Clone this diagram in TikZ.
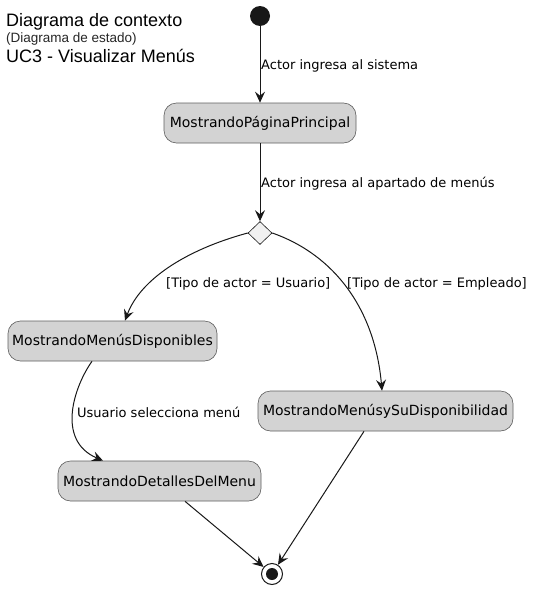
\documentclass[tikz,border=0pt]{standalone}
\usepackage{fontspec}
\setmainfont{DejaVu Sans}
\newfontfamily\titlefont{Liberation Sans}
\usetikzlibrary{arrows.meta,calc,shapes.geometric}
\definecolor{stfill}{HTML}{D3D3D3}
\definecolor{stdraw}{HTML}{5F5F5F}
\definecolor{ink}{HTML}{181818}
\definecolor{dfill}{HTML}{F1F1F1}
\tikzset{
  stbox/.style={draw=stdraw, fill=stfill, rounded corners=12.5pt, minimum height=40pt, inner sep=0pt, line width=0.6pt, font=\fontsize{14}{16}\selectfont, text=black},
  conn/.style={draw=ink, line width=1pt, -{Stealth[length=11pt,width=10pt,inset=4pt]}},
  lbl/.style={anchor=west, inner sep=0pt, font=\fontsize{13}{15}\selectfont, text=black},
  ttl/.style={anchor=base west, inner sep=0pt, text=black},
}
\begin{document}
\begin{tikzpicture}[x=1pt,y=-1pt]
\useasboundingbox (0,0) rectangle (534,589);
% title
\node[ttl, font=\titlefont\fontsize{18}{20}\selectfont] (t1) at (6,26) {Diagrama de contexto};
\node[ttl, font=\titlefont\fontsize{13.5}{15}\selectfont, text={black!85}] (t2) at (6,42.5) {(Diagrama de estado)};
\node[ttl, font=\titlefont\fontsize{18}{20}\selectfont] (t3) at (6,62.5) {UC3 - Visualizar Menús};
% start
\node[circle, fill=ink, minimum size=20pt, inner sep=0pt] (start) at (260,16) {};
% states
\node[stbox, minimum width=192pt] (p) at (260,123) {MostrandoPáginaPrincipal};
\node[diamond, draw=ink, fill=dfill, minimum width=24pt, minimum height=23pt, inner sep=0pt, line width=0.6pt] (d) at (260,233) {};
\node[stbox, minimum width=209pt] (m) at (112.5,341) {MostrandoMenúsDisponibles};
\node[stbox, minimum width=255pt] (e) at (385.5,411) {MostrandoMenúsySuDisponibilidad};
\node[stbox, minimum width=203pt] (det) at (159.5,481) {MostrandoDetallesDelMenu};
% end
\node[circle, draw=ink, fill=white, line width=1pt, minimum size=21pt, inner sep=0pt] (end) at (272,574) {};
\node[circle, fill=ink, minimum size=12pt, inner sep=0pt] (endin) at (end.center) {};
% connectors
\draw[conn] (start) -- (p);
\node[lbl] (l1) at (261,65.5) {Actor ingresa al sistema};
\draw[conn] (p) -- (d.north);
\node[lbl] (l2) at (261,183.5) {Actor ingresa al apartado de menús};
\draw[conn] (d.west) .. controls (185,250) and (140,280) .. ($(m.north)+(12.5,0)$);
\node[lbl] (l3) at (166,283.5) {[Tipo de actor = Usuario]};
\draw[conn] (d.east) .. controls (335,255) and (375,310) .. ($(e.north)+(-3.5,0)$);
\node[lbl] (l4) at (347,283.5) {[Tipo de actor = Empleado]};
\draw[conn] ($(m.south)+(-20.5,0)$) .. controls (75,385) and (55,440) .. ($(det.north)+(-56.5,0)$);
\node[lbl] (l5) at (77,412.5) {Usuario selecciona menú};
\draw[conn] ($(det.south)+(25.5,0)$) -- (end);
\draw[conn] ($(e.south)+(-21.5,0)$) -- (end);
\end{tikzpicture}
\end{document}
